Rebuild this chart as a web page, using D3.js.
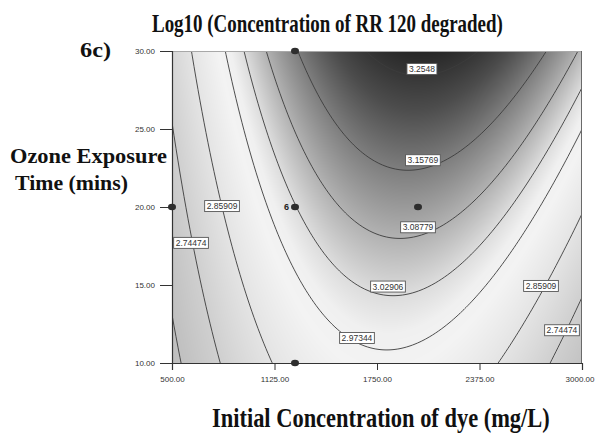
<!DOCTYPE html>
<html><head><meta charset="utf-8">
<script src="https://cdn.jsdelivr.net/npm/d3@7"></script>
<style>html,body{margin:0;padding:0;background:#fff;} svg{display:block}</style>
</head><body>
<svg id="c" width="595" height="437"></svg>
<script>
// ---------------- data ----------------
const xDomain = [500, 3000];
const yDomain = [10, 30];
const xTicks = [500, 1125, 1750, 2375, 3000];
const yTicks = [10, 15, 20, 25, 30];
// fitted quadratic response surface, factors normalised to the plotted range
// u = (A - 500) / 2500, v = (B - 10) / 20
const modelTerms = ["1", "u", "v", "uv", "u2", "v2"];
const modelCoefs = [2.6004, 1.3832, 0.1955, 0.2394, -1.33, -0.0108];
const contourLevels = [2.63039, 2.74474, 2.85909, 2.97344, 3.02906, 3.08779, 3.15769, 3.2548];
const labelLevels = ["3.2548", "3.15769", "3.08779", "3.02906", "2.97344", "2.85909", "2.74474", "2.85909", "2.74474"];
const labelA = [2024, 2030, 2000, 1817, 1628, 805, 616, 2750, 2878];
const labelB = [28.85, 23.0, 18.7, 14.9, 11.6, 20.06, 17.7, 14.94, 12.1];
const designA = [500, 1250, 2000, 1250, 1250];
const designB = [20, 20, 20, 30, 10];
const designRuns = [1, 6, 1, 1, 1];

// ---------------- layout ----------------
const L = 172, R = 582, T = 51, B = 363;
const W = R - L, H = B - T;
const svg = d3.select("#c");
const x = d3.scaleLinear().domain(xDomain).range([L, R]);
const y = d3.scaleLinear().domain(yDomain).range([B, T]);

function model(A, Bv) {
  const u = (A - xDomain[0]) / (xDomain[1] - xDomain[0]);
  const v = (Bv - yDomain[0]) / (yDomain[1] - yDomain[0]);
  const t = [1, u, v, u * v, u * u, v * v];
  return d3.sum(t, (d, i) => d * modelCoefs[i]);
}

// grayscale map (grey version of the rainbow map)
const shade = d3.scaleLinear()
  .domain([2.58, 2.65, 2.75, 2.86, 2.95, 2.99, 3.03, 3.09, 3.16, 3.22, 3.29])
  .range([188, 194, 208, 228, 243, 240, 220, 176, 124, 76, 32])
  .clamp(true);

// raster background
const cv = document.createElement("canvas");
cv.width = W; cv.height = H;
const ctx = cv.getContext("2d");
const img = ctx.createImageData(W, H);
for (let j = 0; j < H; j++) {
  const bv = y.invert(T + j + 0.5);
  for (let i = 0; i < W; i++) {
    const g = Math.round(shade(model(x.invert(L + i + 0.5), bv)));
    const k = (j * W + i) * 4;
    img.data[k] = g; img.data[k + 1] = g; img.data[k + 2] = g; img.data[k + 3] = 255;
  }
}
ctx.putImageData(img, 0, 0);
svg.append("image").attr("x", L).attr("y", T).attr("width", W).attr("height", H)
  .attr("href", cv.toDataURL());

// contours
const step = 2, pad = 10;
const gx0 = L - pad, gy0 = T - pad;
const nx = Math.ceil((W + 2 * pad) / step) + 1, ny = Math.ceil((H + 2 * pad) / step) + 1;
const vals = new Float64Array(nx * ny);
for (let j = 0; j < ny; j++) for (let i = 0; i < nx; i++)
  vals[j * nx + i] = model(x.invert(gx0 + i * step), y.invert(gy0 + j * step));
const contours = d3.contours().size([nx, ny]).thresholds(contourLevels)(vals);
const proj = d3.geoTransform({ point(px, py) { this.stream.point(gx0 + (px - 0.5) * step, gy0 + (py - 0.5) * step); } });
const path = d3.geoPath(proj);
svg.append("clipPath").attr("id", "clip").append("rect")
  .attr("x", L).attr("y", T).attr("width", W).attr("height", H);
svg.append("g").attr("clip-path", "url(#clip)")
  .selectAll("path").data(contours).join("path")
  .attr("d", path).attr("fill", "none").attr("stroke", "#3c3c3c").attr("stroke-width", 0.9);

// frame
svg.append("line").attr("x1", L).attr("x2", R).attr("y1", T + 0.5).attr("y2", T + 0.5).attr("stroke", "#a8a8a8");
svg.append("line").attr("x1", R - 0.5).attr("x2", R - 0.5).attr("y1", T).attr("y2", B).attr("stroke", "#6a6a6a");

// axes
const fmt = d3.format(".2f");
const gy = svg.append("g").attr("transform", `translate(${L},0)`)
  .call(d3.axisLeft(y).tickValues(yTicks).tickFormat(fmt).tickSize(12).tickPadding(5));
const gxa = svg.append("g").attr("transform", `translate(0,${B})`)
  .call(d3.axisBottom(x).tickValues(xTicks).tickFormat(fmt).tickSize(7).tickPadding(6));
[gy, gxa].forEach(g => {
  g.select(".domain").attr("stroke", "#333").attr("stroke-width", 1.2);
  g.selectAll(".tick line").attr("stroke", "#333");
  g.selectAll(".tick text").attr("font-family", "Liberation Sans, Arial, sans-serif")
    .attr("font-size", 8).attr("fill", "#333");
});
// last x tick label sits at the page edge: keep it inside
gxa.selectAll(".tick text").filter(d => d === xTicks[xTicks.length - 1])
  .attr("text-anchor", "end").attr("x", 594 - R);

// design points
svg.append("g").selectAll("ellipse").data(designA).join("ellipse")
  .attr("cx", (d) => x(d)).attr("cy", (d, i) => y(designB[i]))
  .attr("rx", 4).attr("ry", 3.2).attr("fill", "#2e2e2e");
svg.append("g").selectAll("text").data(designA.filter((d, i) => designRuns[i] > 1)).join("text")
  .attr("x", (d) => x(d) - 6).attr("y", y(20) + 3)
  .attr("text-anchor", "end").attr("font-family", "Liberation Sans, Arial, sans-serif")
  .attr("font-size", 9).attr("font-weight", "bold").attr("fill", "#222")
  .text((d, i) => designRuns.filter(r => r > 1)[i]);

// contour labels
const lg = svg.append("g");
labelLevels.forEach((lab, i) => {
  const cx = x(labelA[i]), cy = y(labelB[i]);
  const g = lg.append("g");
  const t = g.append("text").attr("x", cx).attr("y", cy + 3)
    .attr("text-anchor", "middle").attr("font-family", "Liberation Sans, Arial, sans-serif")
    .attr("font-size", 8.5).attr("fill", "#333").text(lab);
  const w = t.node().getComputedTextLength() + 4;
  g.insert("rect", "text").attr("x", cx - w / 2).attr("y", cy - 5.5).attr("width", w).attr("height", 11)
    .attr("fill", "#fff").attr("stroke", "#555").attr("stroke-width", 0.9);
});

// titles (condensed serif, fitted to the measured widths)
const serif = "Liberation Serif, Times New Roman, serif";
function fitText(str, tx, ty, size, width) {
  const t = svg.append("text").attr("font-family", serif).attr("font-weight", "bold")
    .attr("font-size", size).attr("fill", "#111").text(str);
  const k = width / t.node().getComputedTextLength();
  t.attr("transform", `translate(${tx},${ty}) scale(${k},1)`);
  return t;
}
fitText("Log10 (Concentration of RR 120 degraded)", 152, 32, 26, 351);
fitText("6c)", 80, 57, 22, 31);
fitText("Ozone Exposure", 10, 163, 22, 157);
fitText("Time (mins)", 15, 190, 22, 113);
fitText("Initial Concentration of dye (mg/L)", 212, 427, 27, 338);
</script>
</body></html>
